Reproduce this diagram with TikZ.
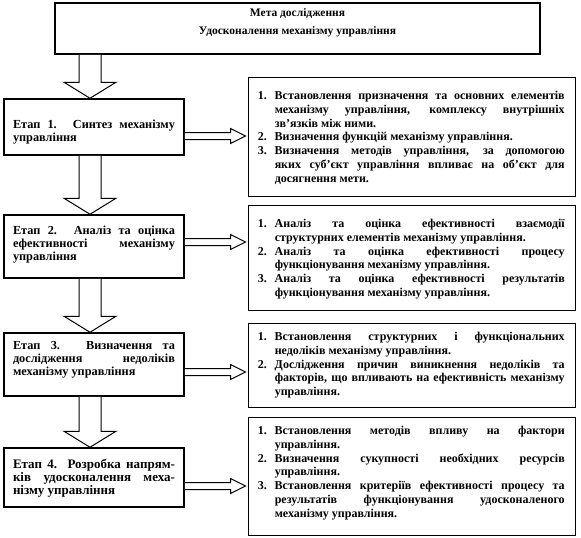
\documentclass[tikz,border=0pt]{standalone}
\usepackage{fontspec}
\setmainfont{Liberation Serif}
\usetikzlibrary{calc}
\newcommand{\numitem}[2]{\par\leftskip=17pt\relax\noindent\hskip-17pt\relax\makebox[17pt][l]{#1}#2\par}
\tikzset{
  goalbox/.style={draw, line width=1.6pt, minimum width=485pt, minimum height=51pt, align=center,
    inner sep=0pt, font=\bfseries\fontsize{11.5}{18}\selectfont},
  stagebox/.style={draw, line width=1.5pt, minimum width=180pt, minimum height=#1, inner sep=0pt},
  stagetext/.style={text width=162pt, align=justify, inner sep=0pt,
    font=\bfseries\fontsize{12.3}{13}\selectfont},
  listbox/.style={draw, line width=0.9pt, minimum width=327pt, minimum height=#1, inner sep=0pt},
  listtext/.style={anchor=north west, inner sep=0pt, text width=307pt, align=justify,
    font=\bfseries\fontsize{12}{13.8}\selectfont},
  blockarr/.style={draw, line width=1pt, fill=white, line join=miter},
}
\newcommand{\varr}[2]{%
  \draw[blockarr] let \p1=(#1.south), \p2=(#2.north) in
    (\x2-15pt,\y1) -- (\x2-15pt,\y2+16pt) -- (\x2-30pt,\y2+16pt) -- (\x2-4pt,\y2)
    -- (\x2+22pt,\y2+16pt) -- (\x2+7pt,\y2+16pt) -- (\x2+7pt,\y1);}
\newcommand{\harr}[2]{%
  \draw[blockarr] let \p1=(#1), \p2=(#2) in
    (\x1,\y1+3.5pt) -- (\x2-15pt,\y1+3.5pt) -- (\x2-15pt,\y1+7.5pt) -- (\x2,\y1)
    -- (\x2-15pt,\y1-7.5pt) -- (\x2-15pt,\y1-3.5pt) -- (\x1,\y1-3.5pt);}
\begin{document}
\begin{tikzpicture}[x=1pt,y=-1pt]
\useasboundingbox (0,0) rectangle (581,538);
\tolerance=10000 \hyphenpenalty=10000

% goal
\node[goalbox] (goal) at (297.5,28.5) {Мета дослідження\\Удосконалення механізму управління\\[-4pt]};

% stages
\node[stagebox=56pt] (s1) at (94,127) {};
\node[stagebox=63pt] (s2) at (94,246.5) {};
\node[stagebox=63pt] (s3) at (94,364.5) {};
\node[stagebox=59pt] (s4) at (94,477.5) {};
\node[stagetext] (s1t) at ($(s1.center)+(0,5)$) {\fontsize{12.3}{18}\selectfont Етап 1. Синтез механізму\linebreak управління};
\node[stagetext] (s2t) at ($(s2.center)+(0,-2)$) {Етап 2. Аналіз та оцінка\linebreak ефективності механізму\linebreak управління};
\node[stagetext] (s3t) at ($(s3.center)+(0,-5)$) {Етап 3. Визначення та\linebreak дослідження недоліків\linebreak механізму управління};
\node[stagetext] (s4t) at ($(s4.center)+(0,1)$) {\fontsize{13}{16}\selectfont Етап 4. Розробка напрям-\linebreak ків удосконалення меха-\linebreak нізму управління};

% list boxes
\node[listbox=119pt] (r1) at (411.5,136.5) {};
\node[listbox=105pt] (r2) at (411.5,257.5) {};
\node[listbox=84pt] (r3) at (411.5,365) {};
\node[listbox=118pt] (r4) at (411.5,476) {};

\node[listtext] (t1) at ($(r1.north west)+(10,9)$) {%
\numitem{1.}{Встановлення призначення та основних елементів\linebreak механізму управління, комплексу внутрішніх\linebreak зв’язків між ними.}%
\numitem{2.}{Визначення функцій механізму управління.}%
\numitem{3.}{Визначення методів управління, за допомогою\linebreak яких суб’єкт управління впливає на об’єкт для\linebreak досягнення мети.}};
\node[listtext] (t2) at ($(r2.north west)+(10,9)$) {%
\numitem{1.}{Аналіз та оцінка ефективності взаємодії\linebreak структурних елементів механізму управління.}%
\numitem{2.}{Аналіз та оцінка ефективності процесу\linebreak функціонування механізму управління.}%
\numitem{3.}{Аналіз та оцінка ефективності результатів\linebreak функціонування механізму управління.}};
\node[listtext] (t3) at ($(r3.north west)+(10,4)$) {%
\numitem{1.}{Встановлення структурних і функціональних\linebreak недоліків механізму управління.}%
\numitem{2.}{Дослідження причин виникнення недоліків та\linebreak факторів, що впливають на ефективність механізму\linebreak управління.}};
\node[listtext] (t4) at ($(r4.north west)+(10,4)$) {%
\numitem{1.}{Встановлення методів впливу на фактори\linebreak управління.}%
\numitem{2.}{Визначення сукупності необхідних ресурсів\linebreak управління.}%
\numitem{3.}{Встановлення критеріїв ефективності процесу та\linebreak результатів функціонування удосконаленого\linebreak механізму управління.}};

% vertical block arrows
\varr{goal}{s1}
\varr{s1}{s2}
\varr{s2}{s3}
\varr{s3}{s4}

% horizontal arrows
\coordinate (h1s) at ($(s1.east)+(0,9)$);
\coordinate (h1e) at ($(r1.west)+(-2,0)$);
\coordinate (h2s) at ($(s2.east)+(0,-4.5)$);
\coordinate (h2e) at ($(r2.west)+(-2,0)$);
\coordinate (h3s) at ($(s3.east)+(0,7.5)$);
\coordinate (h3e) at ($(r3.west)+(-2,0)$);
\coordinate (h4s) at ($(s4.east)+(0,8.5)$);
\coordinate (h4e) at ($(r4.west)+(-2,0)$);
\harr{h1s}{h1e}
\harr{h2s}{h2e}
\harr{h3s}{h3e}
\harr{h4s}{h4e}
\end{tikzpicture}
\end{document}
